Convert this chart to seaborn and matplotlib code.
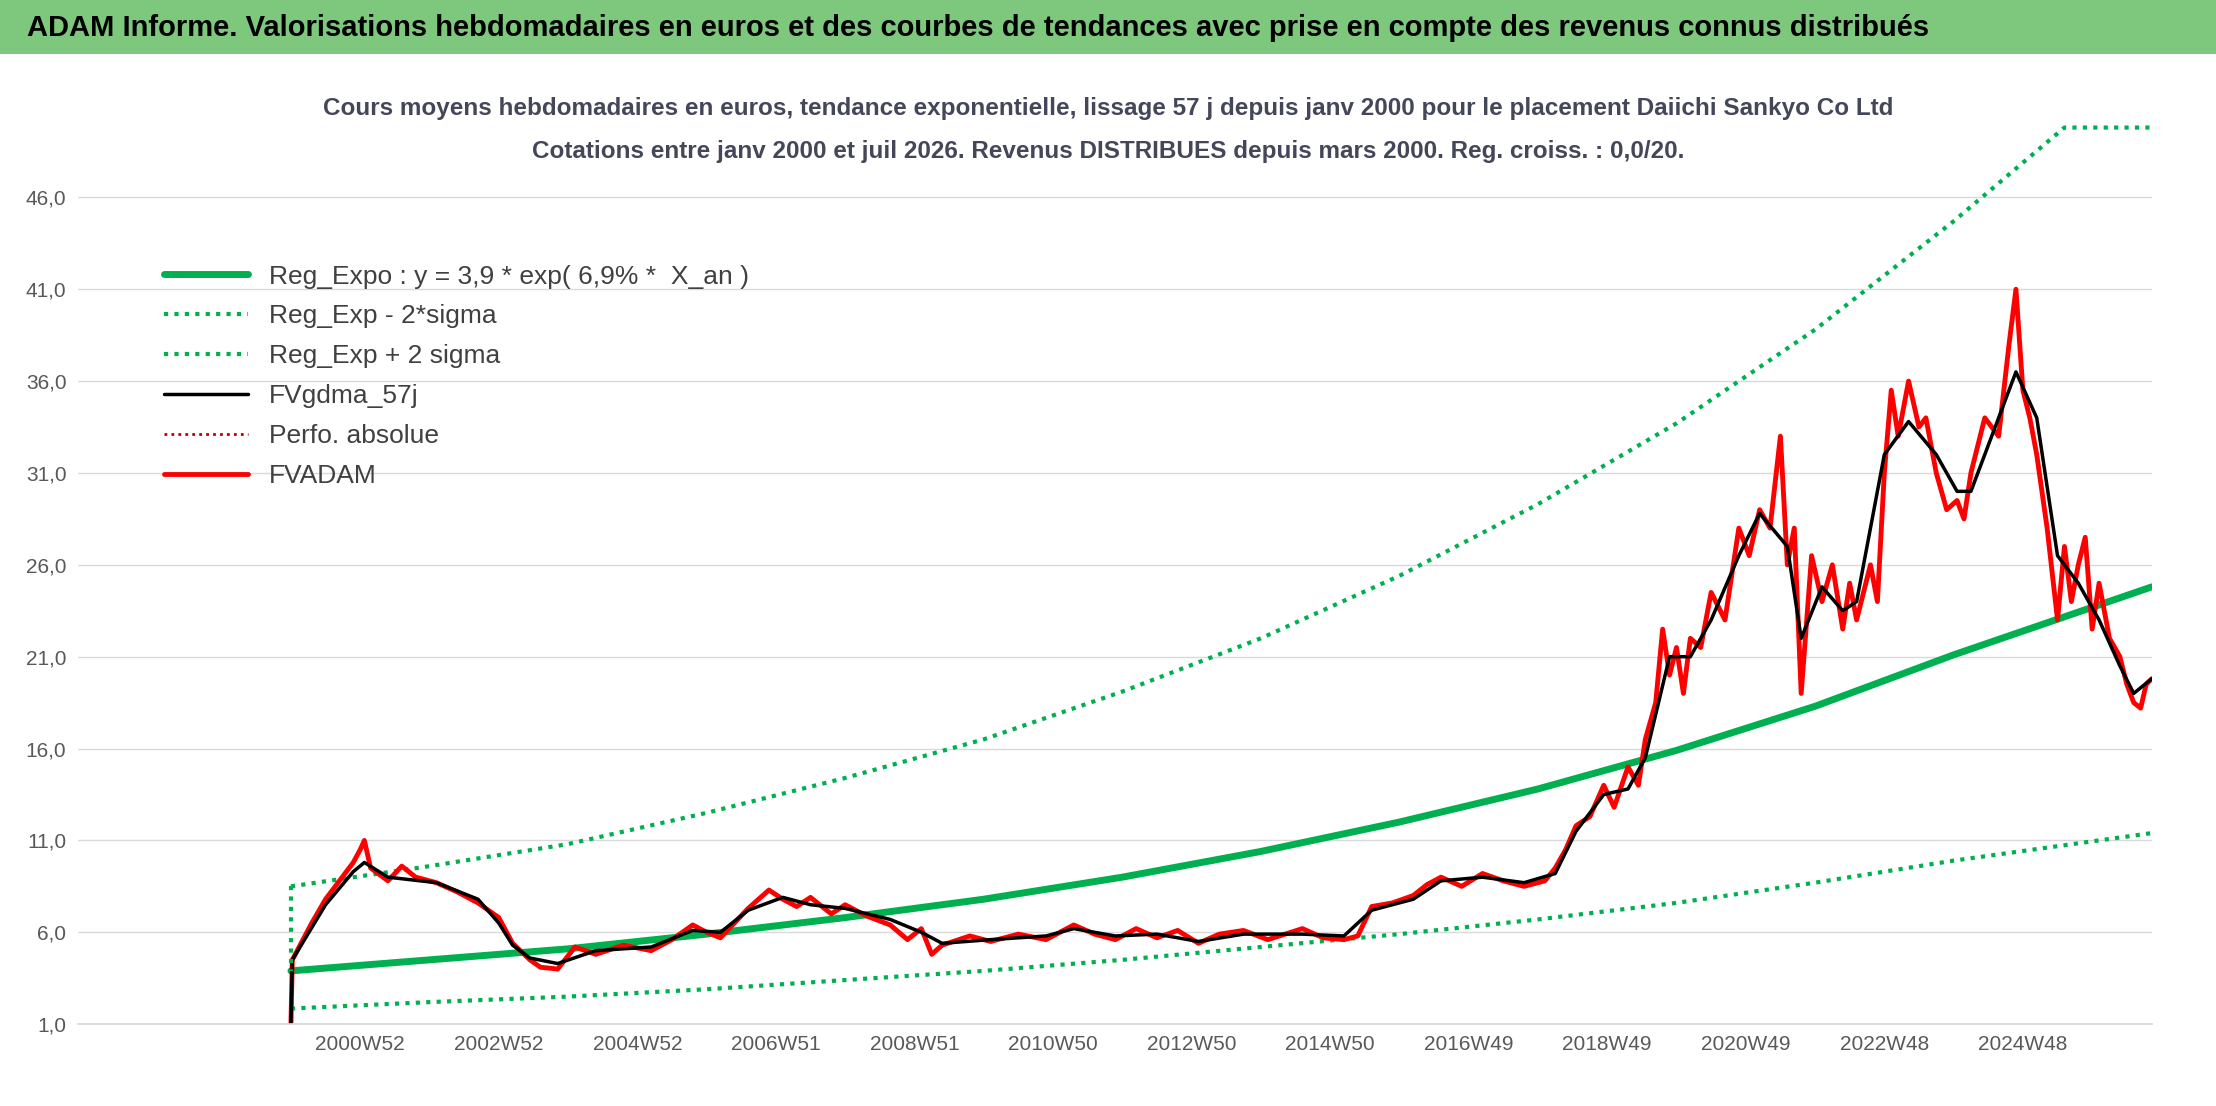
import matplotlib
matplotlib.use("Agg")
import matplotlib.pyplot as plt
import seaborn as sns

sns.set_theme(style="white")
plt.rcParams["font.family"] = ["Liberation Sans", "DejaVu Sans"]

# trend lines (read at yearly knots)
reg_years = [2000.0, 2002, 2004, 2006, 2008, 2010, 2012, 2014, 2016, 2018, 2020, 2022, 2024, 2026.86]
reg_vals = [3.9, 4.5, 5.1, 5.9, 6.8, 7.8, 9.0, 10.4, 12.0, 13.8, 15.9, 18.3, 21.1, 24.8]
low_vals = [1.85, 2.2, 2.5, 2.9, 3.4, 3.9, 4.5, 5.2, 5.9, 6.7, 7.6, 8.7, 9.9, 11.4]
up_years = [2000.0, 2002, 2004, 2006, 2008, 2010, 2012, 2014, 2016, 2018, 2020, 2022, 2024, 2025.6, 2026.86]
up_vals = [8.5, 9.6, 10.8, 12.5, 14.4, 16.5, 19.1, 22.0, 25.4, 29.3, 33.7, 38.8, 44.7, 49.8, 49.8]

# smoothed 57j
sm_years = [2000.0, 2000.02, 2000.5, 2000.9, 2001.06, 2001.4, 2002.1, 2002.7, 2003.0, 2003.2, 2003.45,
            2003.85, 2004.4, 2005.2, 2005.8, 2006.2, 2006.6, 2007.1, 2007.5, 2008.0, 2008.65, 2009.1,
            2009.4, 2010.1, 2010.9, 2011.3, 2011.9, 2012.5, 2013.1, 2013.75, 2014.6, 2015.2, 2015.6,
            2016.2, 2016.6, 2017.2, 2017.8, 2018.25, 2018.55, 2018.95, 2019.3, 2019.55, 2019.9, 2020.2,
            2020.5, 2020.9, 2021.2, 2021.6, 2021.8, 2022.1, 2022.4, 2022.6, 2023.0, 2023.35, 2023.75,
            2024.05, 2024.25, 2024.65, 2024.9, 2025.2, 2025.5, 2025.8, 2026.1, 2026.4, 2026.6, 2026.86]
sm_vals = [1.0, 4.5, 7.5, 9.3, 9.8, 9.0, 8.7, 7.8, 6.5, 5.3, 4.6, 4.3, 5.0, 5.2, 6.1, 6.0, 7.2, 7.9,
           7.5, 7.3, 6.7, 6.0, 5.4, 5.6, 5.8, 6.2, 5.8, 5.9, 5.5, 5.9, 5.9, 5.8, 7.2, 7.8, 8.8, 9.0,
           8.7, 9.2, 11.5, 13.5, 13.8, 15.5, 21.0, 21.0, 23.0, 26.5, 28.8, 27.0, 22.0, 24.8, 23.5, 24.0,
           32.0, 33.8, 32.0, 30.0, 30.0, 34.0, 36.5, 34.0, 26.5, 25.0, 23.0, 20.5, 19.0, 19.8]

# FVADAM weekly (with its noise)
fv_years = [2000.0, 2000.02, 2000.3, 2000.5, 2000.7, 2000.9, 2001.0, 2001.06, 2001.15, 2001.4, 2001.6,
            2001.8, 2002.1, 2002.4, 2002.7, 2003.0, 2003.2, 2003.45, 2003.6, 2003.85, 2004.1, 2004.4,
            2004.8, 2005.2, 2005.5, 2005.8, 2006.0, 2006.2, 2006.6, 2006.9, 2007.1, 2007.3, 2007.5,
            2007.8, 2008.0, 2008.3, 2008.65, 2008.9, 2009.1, 2009.25, 2009.4, 2009.8, 2010.1, 2010.5,
            2010.9, 2011.3, 2011.6, 2011.9, 2012.2, 2012.5, 2012.8, 2013.1, 2013.4, 2013.75, 2014.1,
            2014.6, 2014.9, 2015.2, 2015.4, 2015.6, 2015.9, 2016.2, 2016.4, 2016.6, 2016.9, 2017.2,
            2017.5, 2017.8, 2018.1, 2018.25, 2018.4, 2018.55, 2018.75, 2018.95, 2019.1, 2019.3, 2019.45,
            2019.55, 2019.7, 2019.8, 2019.9, 2020.0, 2020.1, 2020.2, 2020.35, 2020.5, 2020.7, 2020.9,
            2021.05, 2021.2, 2021.35, 2021.5, 2021.6, 2021.7, 2021.8, 2021.95, 2022.1, 2022.25, 2022.4,
            2022.5, 2022.6, 2022.8, 2022.9, 2023.0, 2023.1, 2023.2, 2023.35, 2023.5, 2023.6, 2023.75,
            2023.9, 2024.05, 2024.15, 2024.25, 2024.45, 2024.65, 2024.8, 2024.9, 2025.0, 2025.1, 2025.2,
            2025.35, 2025.5, 2025.6, 2025.7, 2025.8, 2025.9, 2026.0, 2026.1, 2026.25, 2026.4, 2026.5,
            2026.6, 2026.7, 2026.78, 2026.86]
fv_vals = [1.0, 4.5, 6.5, 7.8, 8.8, 9.8, 10.5, 11.0, 9.5, 8.8, 9.6, 9.0, 8.7, 8.2, 7.6, 6.8, 5.4, 4.5,
           4.1, 4.0, 5.2, 4.8, 5.3, 5.0, 5.6, 6.4, 6.0, 5.7, 7.3, 8.3, 7.8, 7.4, 7.9, 7.0, 7.5, 6.9,
           6.4, 5.6, 6.2, 4.8, 5.3, 5.8, 5.5, 5.9, 5.6, 6.4, 5.9, 5.6, 6.2, 5.7, 6.1, 5.4, 5.9, 6.1,
           5.6, 6.2, 5.7, 5.6, 5.8, 7.4, 7.6, 8.0, 8.6, 9.0, 8.5, 9.2, 8.8, 8.5, 8.8, 9.5, 10.5, 11.8,
           12.3, 14.0, 12.8, 15.0, 14.0, 16.5, 18.5, 22.5, 20.0, 21.5, 19.0, 22.0, 21.5, 24.5, 23.0,
           28.0, 26.5, 29.0, 28.0, 33.0, 26.0, 28.0, 19.0, 26.5, 24.0, 26.0, 22.5, 25.0, 23.0, 26.0,
           24.0, 31.0, 35.5, 33.0, 36.0, 33.5, 34.0, 31.0, 29.0, 29.5, 28.5, 31.0, 34.0, 33.0, 38.0,
           41.0, 35.5, 34.0, 32.0, 28.0, 23.0, 27.0, 24.0, 26.0, 27.5, 22.5, 25.0, 22.0, 21.0, 19.5,
           18.5, 18.2, 19.5, 19.8]

xtick_pos = [2001, 2003, 2005, 2007, 2009, 2011, 2013, 2015, 2017, 2019, 2021, 2023, 2025]
xtick_labels = ["2000W52", "2002W52", "2004W52", "2006W51", "2008W51", "2010W50", "2012W50",
                "2014W50", "2016W49", "2018W49", "2020W49", "2022W48", "2024W48"]
ytick_vals = [1, 6, 11, 16, 21, 26, 31, 36, 41, 46]

fig = plt.figure(figsize=(22.16, 11.06), dpi=100)
ax = fig.add_axes([0.035, 0.074, 0.936, 0.814])

green = "#00b050"
dots = (0, (1, 1.5))
sns.lineplot(x=reg_years, y=reg_vals, ax=ax, color=green, linewidth=5, label="Reg_Expo : y = 3,9 * exp( 6,9% *  X_an )")
sns.lineplot(x=reg_years, y=low_vals, ax=ax, color=green, linewidth=3, linestyle=dots, label="Reg_Exp - 2*sigma")
sns.lineplot(x=up_years, y=up_vals, ax=ax, color=green, linewidth=3, linestyle=dots, label="Reg_Exp + 2 sigma")
sns.lineplot(x=fv_years, y=fv_vals, ax=ax, color="#c00000", linewidth=2, linestyle=dots, label="Perfo. absolue", sort=False)
sns.lineplot(x=fv_years, y=fv_vals, ax=ax, color="#ff0000", linewidth=3.5, label="FVADAM", sort=False)
sns.lineplot(x=sm_years, y=sm_vals, ax=ax, color="black", linewidth=2.5, label="FVgdma_57j", sort=False)
ax.plot([up_years[0], up_years[0]], [up_vals[0], reg_vals[0]], color=green, linewidth=3, linestyle=dots)

handles, labels = ax.get_legend_handles_labels()
order = [0, 1, 2, 5, 3, 4]
ax.legend([handles[i] for i in order], [labels[i] for i in order], loc="upper left",
          bbox_to_anchor=(0.03, 0.87), frameon=False, fontsize=19, handlelength=3.2,
          labelspacing=0.6, labelcolor="#404040")

ax.set_xlim(1996.92, 2026.86)
ax.set_ylim(1, 50)
ax.set_yticks(ytick_vals)
ax.set_yticklabels([f"{v:.1f}".replace(".", ",") for v in ytick_vals], fontsize=15, color="#595959")
ax.set_xticks(xtick_pos)
ax.set_xticklabels(xtick_labels, fontsize=15, color="#595959")
ax.tick_params(axis="both", length=0, pad=8)
ax.grid(axis="y", color="#d9d9d9", linewidth=1)
for s in ["top", "right", "left"]:
    ax.spines[s].set_visible(False)
ax.spines["bottom"].set_color("#d9d9d9")
ax.set_xlabel("")
ax.set_ylabel("")

# title bar
fig.patches.append(plt.Rectangle((0, 0.951), 1, 0.049, transform=fig.transFigure,
                                 facecolor="#7dc87d", edgecolor="none"))
fig.text(0.012, 0.975, "ADAM Informe. Valorisations hebdomadaires en euros et des courbes de tendances avec prise en compte des revenus connus distribués",
         fontsize=21, fontweight="bold", color="black", va="center", ha="left")
fig.text(0.5, 0.902, "Cours moyens hebdomadaires en euros, tendance exponentielle, lissage 57 j depuis janv 2000 pour le placement Daiichi Sankyo Co Ltd",
         fontsize=17.5, fontweight="bold", color="#44475a", ha="center", va="center")
fig.text(0.5, 0.863, "Cotations entre janv 2000 et juil 2026. Revenus DISTRIBUES depuis mars 2000. Reg. croiss. : 0,0/20.",
         fontsize=17.5, fontweight="bold", color="#44475a", ha="center", va="center")

fig.savefig("out.png", dpi=100)
